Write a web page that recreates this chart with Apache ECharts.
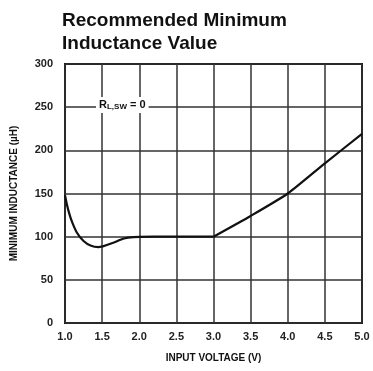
<!DOCTYPE html>
<html><head><meta charset="utf-8">
<script src="https://cdn.jsdelivr.net/npm/echarts@6/dist/echarts.min.js"></script>
<style>html,body{margin:0;padding:0;background:#fff}#c{width:373px;height:371px}</style>
</head><body><div id="c"></div>
<script>
const titleLines = ['Recommended Minimum', 'Inductance Value'];
const xName = 'INPUT VOLTAGE (V)';
const yName = 'MINIMUM INDUCTANCE (µH)';
const xTicks = ['1.0','1.5','2.0','2.5','3.0','3.5','4.0','4.5','5.0'];
// low-voltage part of the curve (dip) and high-voltage rising part
const voltageLow = [1.0, 1.1, 1.25, 1.45, 1.65, 1.85, 2.2, 2.8, 3.0];
const inductanceLow = [148, 116, 95, 88, 93, 99, 100, 100, 100];
const voltageHigh = [3.0, 3.5, 4.0, 4.5, 5.0];
const inductanceHigh = [100, 124, 150, 185, 219];

const chart = echarts.init(document.getElementById('c'), null, {renderer:'canvas'});
const FONT = 'Liberation Sans';
const lineStyle = {color:'#111', width:2.2};
chart.setOption({
  animation:false,
  backgroundColor:'#fff',
  title:{text:titleLines.join('\n'), left:62, top:9, padding:0,
    textStyle:{fontFamily:FONT, fontWeight:'bold', fontSize:19, lineHeight:23, color:'#111'}},
  grid:{left:65, right:11, top:64, bottom:48, show:true, borderColor:'#111', borderWidth:2},
  xAxis:{type:'value', min:1, max:5, interval:0.5,
    name:xName, nameLocation:'middle', nameGap:30,
    nameTextStyle:{fontFamily:FONT, fontWeight:'bold', fontSize:10, color:'#111'},
    axisLine:{show:false}, axisTick:{show:false},
    axisLabel:{fontFamily:FONT, fontWeight:'bold', fontSize:11, color:'#222', margin:8,
      formatter:v=>xTicks[Math.round((v-1)/0.5)]},
    splitLine:{lineStyle:{color:'#333', width:1.5}}},
  yAxis:{type:'value', min:0, max:300, interval:50,
    name:yName, nameLocation:'middle', nameGap:46, nameRotate:90,
    nameTextStyle:{fontFamily:FONT, fontWeight:'bold', fontSize:10, color:'#111'},
    axisLine:{show:false}, axisTick:{show:false},
    axisLabel:{fontFamily:FONT, fontWeight:'bold', fontSize:11, color:'#222', margin:12},
    splitLine:{lineStyle:{color:'#333', width:1.5}}},
  graphic:[{type:'text', left:96, top:97, z:100,
    style:{text:'{r|R}{s|L,SW}{r| = 0}', backgroundColor:'#fff', padding:[2,3],
      rich:{r:{fontFamily:FONT, fontWeight:'bold', fontSize:11, fill:'#111'},
            s:{fontFamily:FONT, fontWeight:'bold', fontSize:8, fill:'#111', verticalAlign:'bottom', padding:[4,0,0,0]}}}}],
  series:[
    {type:'line', data:voltageLow.map((v,i)=>[v,inductanceLow[i]]), smooth:0.4,
      showSymbol:false, lineStyle},
    {type:'line', data:voltageHigh.map((v,i)=>[v,inductanceHigh[i]]), smooth:0.2,
      showSymbol:false, lineStyle}]
});
</script></body></html>
